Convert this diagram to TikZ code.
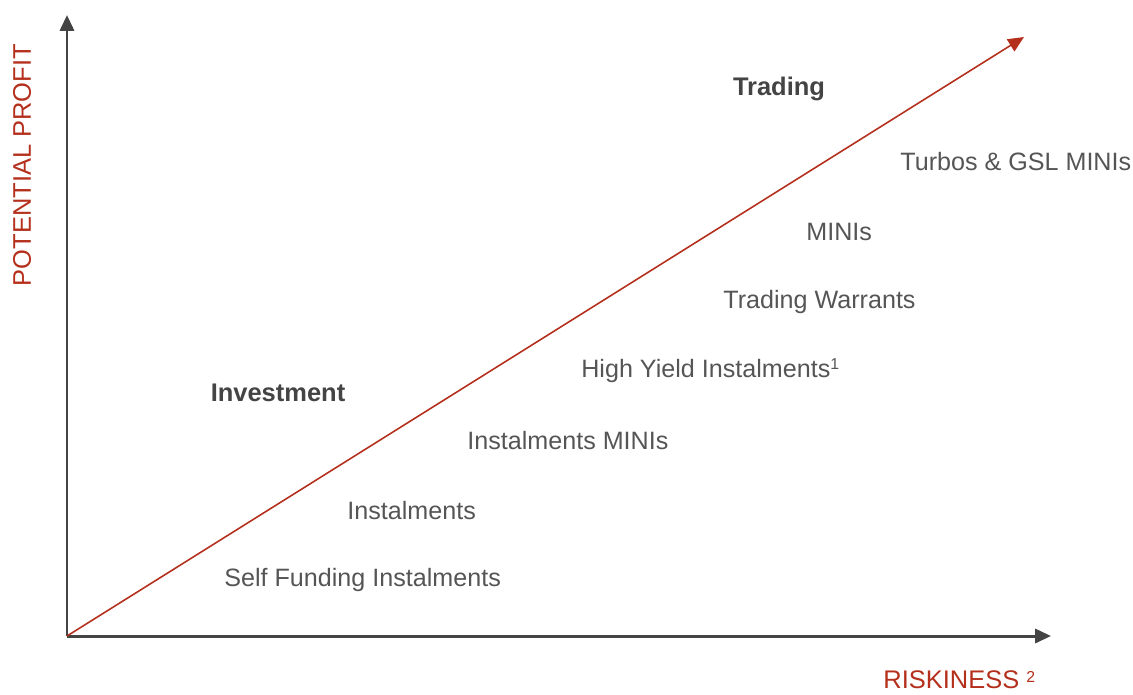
\documentclass[tikz,border=0pt]{standalone}
\usepackage{fontspec}
\setmainfont{Liberation Sans}
\usepackage{xcolor}
\usetikzlibrary{arrows.meta,positioning,calc}

\definecolor{riskred}{RGB}{180,48,28}
\definecolor{axisgray}{RGB}{68,68,68}
\definecolor{textgray}{RGB}{85,85,85}

\tikzset{
  product/.style={anchor=west,inner sep=0pt,text=textgray,font=\fontsize{14.3}{16}\selectfont},
  zone/.style={inner sep=0pt,text=axisgray,font=\fontsize{14.5}{16}\selectfont\bfseries},
  axislabel/.style={inner sep=0pt,text=riskred,font=\fontsize{14.5}{16}\selectfont},
  axisline/.style={draw=axisgray,line width=1.7pt,-{Triangle[length=9pt,width=8pt]}}
}

\begin{document}
\begin{tikzpicture}[x=0.02cm,y=-0.02cm]
        \useasboundingbox (0,0) rectangle (1133,694);

        % Axes
        \coordinate (origin) at (67,636);
        \coordinate (ytip) at (67,15);
        \coordinate (xtip) at (1051,636);
        \coordinate (risktip) at (1024,37);
        \draw[axisline] (origin) -- (ytip);
        \draw[axisline] (origin) -- (xtip);

        % Risk line
        \draw[riskred,line width=0.9pt,-{Triangle[length=9pt,width=8pt]}] (origin) -- (risktip);

        % Axis labels
        \node[axislabel,rotate=90] (profit) at (22,165) {POTENTIAL PROFIT};
        \node[axislabel,anchor=west] (risk) at (883,680) {RISKINESS \raisebox{0.5ex}{\fontsize{9}{10}\selectfont 2}};

        % Zones
        \node[zone] (trading) at (779,89) {Trading};
        \node[zone] (investment) at (278,393) {Investment};

        % Products
        \node[product] (turbos) at (900,162) {Turbos \& GSL MINIs};
        \node[product] (minis) at (806,232) {MINIs};
        \node[product] (warrants) at (723,302) {Trading Warrants};
        \node[product] (highyield) at (581,371) {High Yield Instalments\raisebox{0.6ex}{\fontsize{9}{10}\selectfont 1}};
        \node[product] (instminis) at (467,441) {Instalments MINIs};
        \node[product] (instal) at (347,511) {Instalments};
        \node[product] (selffund) at (224,580) {Self Funding Instalments};
\end{tikzpicture}
\end{document}
